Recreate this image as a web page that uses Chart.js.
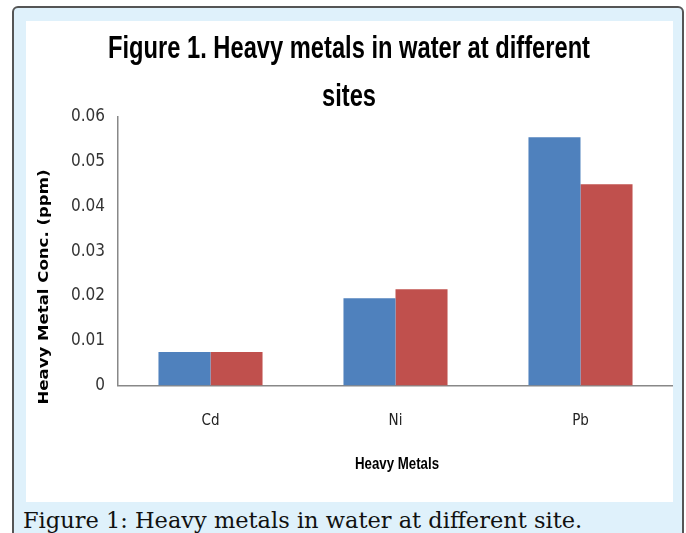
<!DOCTYPE html>
<html>
<head>
<meta charset="utf-8">
<script src="https://cdn.jsdelivr.net/npm/chart.js@4.4.0/dist/chart.umd.min.js"></script>
<style>
body{margin:0;background:#fff;width:686px;height:533px;overflow:hidden;position:relative;}
#frame{position:absolute;left:12px;top:6px;width:672px;height:545px;box-sizing:border-box;border:2px solid #555;border-radius:6px;background:#dff1fb;}
#plot{position:absolute;left:26px;top:21px;width:647px;height:481px;background:#fff;}
#cap{position:absolute;left:23px;top:508px;font:22.5px/24px "DejaVu Serif",serif;color:#111;white-space:nowrap;}
</style>
</head>
<body>
<div id="frame"></div>
<div id="plot"><canvas id="bar-chart" width="647" height="481"></canvas></div>
<div id="cap">Figure 1: Heavy metals in water at different site.</div>
<script>
var metals = ["Cd", "Ni", "Pb"];
var site1 = [0.0075, 0.0195, 0.0555];
var site2 = [0.0075, 0.0215, 0.045];
var yTicks = [0, 0.01, 0.02, 0.03, 0.04, 0.05, 0.06];

var narrow = "'DejaVu Sans Condensed', 'Liberation Sans Narrow', 'Arial Narrow', sans-serif";

// draw text squeezed to a given width, like the original picture
function fitText(ctx, txt, x, y, w, rot){
    ctx.save();
    ctx.translate(x, y);
    if(rot) ctx.rotate(rot);
    var m = ctx.measureText(txt).width;
    ctx.scale(w / m, 1);
    ctx.fillText(txt, 0, 0);
    ctx.restore();
}

var labelsPlugin = {
    id: 'labelsPlugin',
    afterDraw: function(chart){
        var ctx = chart.ctx;
        ctx.save();
        ctx.fillStyle = '#000';
        ctx.textAlign = 'center';
        ctx.textBaseline = 'alphabetic';
        ctx.font = 'bold 32px "Liberation Sans", sans-serif';
        var m1 = ctx.measureText("Figure 1. Heavy metals in water at different").width;
        var sx = 482 / m1;
        fitText(ctx, "Figure 1. Heavy metals in water at different", 323, 37, 482);
        fitText(ctx, "sites", 323, 85, ctx.measureText("sites").width * sx);
        ctx.font = 'bold 16px "Liberation Sans", sans-serif';
        ctx.textBaseline = 'middle';
        fitText(ctx, "Heavy Metals", 371, 444, 84);
        ctx.font = 'bold 14px "DejaVu Sans", Verdana, sans-serif';
        fitText(ctx, "Heavy Metal Conc. (ppm)", 18, 266, 235, -Math.PI / 2);
        ctx.restore();
    }
};

new Chart(document.getElementById("bar-chart"), {
    type: 'bar',
    data: {
        labels: metals,
        datasets: [{
            label: "Site 1",
            backgroundColor: "#4f81bd",
            data: site1
        }, {
            label: "Site 2",
            backgroundColor: "#c0504d",
            data: site2
        }]
    },
    options: {
        responsive: false,
        animation: false,
        layout: { padding: { top: 96, right: 0, left: 0, bottom: 0 } },
        plugins: {
            legend: { display: false },
            title: { display: false },
            tooltip: { enabled: false }
        },
        datasets: { bar: { categoryPercentage: 0.5625, barPercentage: 1 } },
        scales: {
            x: {
                grid: { display: false, drawTicks: false },
                border: { color: '#888', width: 1.5 },
                ticks: { padding: 27, color: '#222', font: { family: narrow, size: 15 } },
                afterFit: function(s){ s.height = 116.5; }
            },
            y: {
                min: 0,
                max: 0.06,
                afterBuildTicks: function(s){ s.ticks = yTicks.map(function(v){ return { value: v }; }); },
                grid: { display: false, drawTicks: false },
                border: { color: '#888', width: 1.5 },
                ticks: {
                    padding: 13,
                    color: '#333',
                    font: { family: narrow, size: 17 },
                    callback: function(v){ return v === 0 ? '0' : v.toFixed(2); }
                },
                afterFit: function(s){ s.width = 92; }
            }
        }
    },
    plugins: [labelsPlugin]
});
</script>
</body>
</html>
